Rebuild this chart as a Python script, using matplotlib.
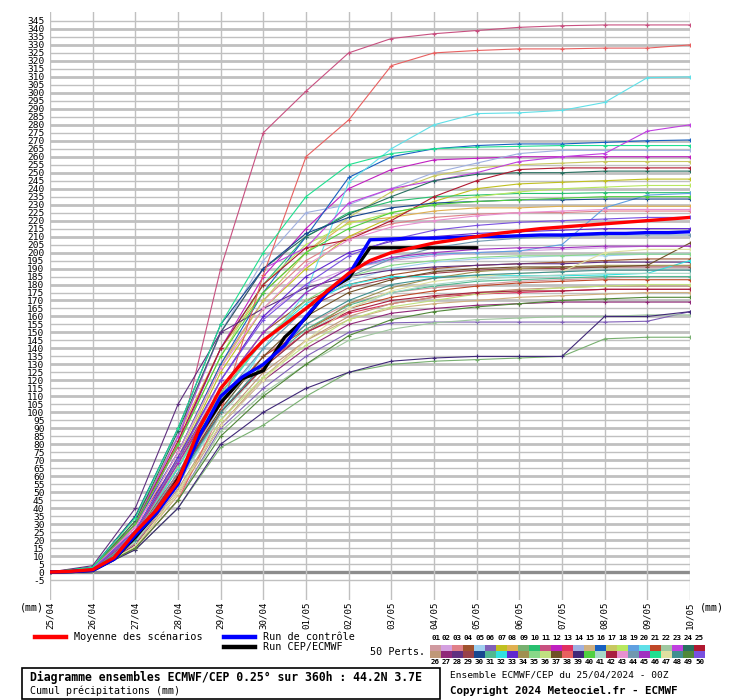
import matplotlib
matplotlib.use("Agg")
import matplotlib.pyplot as plt
from matplotlib.lines import Line2D
from matplotlib.patches import Rectangle

W, H = 740, 700
plt.rcParams['font.family'] = ['DejaVu Sans Mono']

# ---------------- data ----------------
day_labels = ["25/04", "26/04", "27/04", "28/04", "29/04", "30/04", "01/05", "02/05",
              "03/05", "04/05", "05/05", "06/05", "07/05", "08/05", "09/05", "10/05"]
member_hours = [0, 24, 48, 72, 96, 120, 144, 168, 192, 216, 240, 264, 288, 312, 336, 360]

member_colors = ["#d09aa0", "#d4a0e0", "#e08088", "#a0522d", "#a0d0f0", "#8060b8", "#c0c020",
                 "#e0b050", "#78b070", "#28c070", "#c85080", "#c020c0", "#e03060", "#a0b0e0",
                 "#d0b080", "#1860c0", "#c8c860", "#b8e860", "#60a0e0", "#60e0e8", "#c04828",
                 "#a0c8a0", "#c040e0", "#287060", "#b01830",
                 "#c09878", "#902878", "#603080", "#984048", "#184890", "#50b890", "#30e0e0",
                 "#6028d0", "#a09050", "#88d888", "#c0e080", "#705028", "#e86060", "#402878",
                 "#50d040", "#a8d8c8", "#a82040", "#e890d0", "#7098b0", "#a030c0", "#20e090",
                 "#e0e0a0", "#409090", "#508838", "#7850e0"]

m01 = [0, 2, 22, 60, 105, 135, 155, 168, 175, 178, 180, 182, 183, 184, 185, 185]
m02 = [0, 1.5, 25, 65, 120, 160, 180, 190, 195, 198, 200, 201, 202, 203, 204, 204]
m03 = [0, 2, 28, 75, 130, 170, 195, 210, 218, 222, 224, 225, 225, 226, 226, 226]
m04 = [0, 2.5, 30, 70, 115, 150, 170, 180, 186, 190, 192, 193, 194, 195, 196, 196]
m05 = [0, 1, 18, 55, 105, 140, 165, 182, 190, 194, 196, 197, 198, 198, 199, 199]
m06 = [0, 1, 15, 45, 90, 115, 135, 150, 156, 156.5, 156.5, 156.5, 156.5, 156.5, 157, 163]
m07 = [0, 2, 25, 70, 125, 165, 190, 210, 222, 232, 240, 243, 244, 245, 246, 246]
m08 = [0, 3, 32, 85, 140, 175, 200, 219, 222, 226, 228, 228, 229, 229, 229, 229]
m09 = [0, 1, 14, 40, 78, 92, 110, 125, 130, 132, 133, 134, 135, 146, 147, 147]
m10 = [0, 2, 30, 80, 140, 180, 210, 225, 232, 235, 236, 237, 237, 237.5, 237.5, 237.5]
m11 = [0, 2, 35, 78, 190, 275, 301, 325, 334, 337, 339, 341, 342, 342.5, 342.5, 342.5]
m12 = [0, 2, 28, 80, 140, 185, 215, 240, 252, 258, 259, 260, 260, 260, 260, 260]
m13 = [0, 1.5, 20, 55, 100, 130, 150, 162, 168, 172, 174, 175, 176, 177, 177, 177]
m14 = [0, 2, 30, 85, 150, 195, 225, 230, 240, 250, 256, 262, 264, 264, 264, 264]
m15 = [0, 1, 16, 48, 92, 122, 145, 158, 165, 168, 170, 172, 173, 174, 175, 175]
m16 = [0, 3, 30, 75, 130, 175, 210, 247, 260, 265, 267, 268, 268, 269, 270, 270.5]
m17 = [0, 2, 25, 72, 128, 170, 200, 222, 238, 248, 253, 255, 256, 257, 257, 257]
m18 = [0, 2.5, 30, 80, 135, 180, 205, 218, 225, 230, 235, 238, 240, 241, 242, 242]
m19 = [0, 1.5, 22, 65, 115, 150, 175, 190, 196, 199, 200, 201, 205, 228, 236, 237]
m20 = [0, 2, 25, 55, 100, 140, 175, 244, 265, 280, 287, 287.5, 289, 294, 309.5, 310]
m21 = [0, 2, 24, 62, 105, 135, 152, 165, 172, 176, 179, 181, 182, 183, 183, 183]
m22 = [0, 1, 15, 45, 88, 112, 130, 145, 152, 156, 158, 159, 160, 160, 161, 161]
m23 = [0, 2, 30, 85, 150, 190, 203, 231, 240, 245, 250, 257, 260, 262, 276, 280]
m24 = [0, 2, 32, 88, 150, 190, 210, 224, 235, 245, 249, 250, 250, 251, 251, 251]
m25 = [0, 2.5, 30, 82, 140, 180, 203, 208, 220, 235, 245, 252, 253, 253, 253, 253]
m26 = [0, 1.5, 18, 52, 95, 125, 145, 160, 168, 172, 175, 177, 178, 179, 179, 179]
m27 = [0, 1, 17, 50, 92, 120, 140, 155, 162, 165, 167, 168, 169, 169, 169, 169]
m28 = [0, 4, 40, 105, 150, 165, 178, 185, 189, 191, 192, 193, 193, 194, 194, 194]
m29 = [0, 2, 26, 68, 112, 145, 165, 178, 184, 187, 189, 190, 190, 191, 191, 191]
m30 = [0, 3, 35, 90, 155, 190, 212, 222, 228, 231, 232, 233, 233, 233.5, 233.5, 233.5]
m31 = [0, 1.5, 20, 58, 100, 130, 152, 167, 175, 179, 182, 183, 184, 185, 185, 185]
m32 = [0, 2, 24, 65, 110, 145, 168, 180, 185, 185, 185.5, 185.5, 185.5, 186, 187, 195]
m33 = [0, 2, 26, 72, 120, 160, 185, 200, 207, 210, 212, 213, 214, 215, 215, 215]
m34 = [0, 1.5, 20, 60, 100, 128, 150, 168, 178, 184, 188, 190, 191, 192, 192, 192]
m35 = [0, 2, 24, 66, 112, 145, 170, 185, 192, 195, 197, 198, 198, 199, 199, 199]
m36 = [0, 1, 16, 50, 95, 122, 142, 158, 166, 170, 174, 176, 178, 179, 180, 180]
m37 = [0, 2, 22, 60, 102, 135, 160, 175, 183, 188, 190, 191, 191, 191, 192, 206]
m38 = [0, 1, 15, 45, 100, 186, 260, 283, 317, 325, 326.5, 327.5, 327.5, 328, 328, 330]
m39 = [0, 1, 14, 40, 80, 100, 115, 125, 132, 134, 135, 135, 135, 160, 160, 163]
m40 = [0, 2.5, 30, 80, 135, 175, 200, 215, 225, 230, 232, 233, 234, 235, 235, 235]
m41 = [0, 1.5, 19, 55, 98, 128, 150, 165, 175, 180, 183, 185, 186, 187, 187, 187]
m42 = [0, 2, 22, 60, 100, 128, 150, 163, 170, 173, 175, 176, 176, 177, 177, 177]
m43 = [0, 2, 28, 75, 128, 165, 192, 208, 216, 220, 223, 225, 226, 227, 227, 227]
m44 = [0, 1.5, 22, 62, 108, 140, 165, 185, 196, 203, 207, 209, 210, 211, 211, 211]
m45 = [0, 2, 24, 68, 115, 150, 175, 190, 197, 200, 202, 203, 203, 204, 204, 204]
m46 = [0, 3, 34, 90, 155, 200, 235, 255, 262, 265, 266, 266.5, 267, 267, 267, 267]
m47 = [0, 1, 16, 50, 92, 120, 145, 165, 176, 182, 185, 187, 188, 200, 202, 202]
m48 = [0, 1.5, 20, 58, 100, 130, 155, 170, 180, 184, 186, 187, 188, 189, 189, 189]
m49 = [0, 1, 15, 45, 85, 110, 130, 148, 158, 163, 166, 168, 170, 171, 172, 172]
m50 = [0, 2, 26, 70, 120, 158, 180, 198, 208, 214, 217, 219, 220, 221, 222, 222]

members = [m01, m02, m03, m04, m05, m06, m07, m08, m09, m10,
           m11, m12, m13, m14, m15, m16, m17, m18, m19, m20,
           m21, m22, m23, m24, m25, m26, m27, m28, m29, m30,
           m31, m32, m33, m34, m35, m36, m37, m38, m39, m40,
           m41, m42, m43, m44, m45, m46, m47, m48, m49, m50]

hours_12 = [0, 12, 24, 36, 48, 60, 72, 84, 96, 108, 120, 132, 144, 156, 168, 180, 192,
            204, 216, 228, 240, 252, 264, 276, 288, 300, 312, 324, 336, 348, 360]
mean_vals = [0, 0.5, 1.5, 9, 25, 39, 57, 90, 115, 131, 145, 155, 165, 176, 187, 195, 200,
             203, 206, 208, 210, 212, 213.5, 215, 216, 217, 218, 219, 220, 221, 222]
control_vals = [0, 0.3, 1, 8, 23, 37, 55, 85, 110, 122, 130, 142, 160, 175, 186, 208, 208.5,
                209, 209, 209.5, 210, 210, 210.5, 211, 211, 211.5, 212, 212, 212.5, 212.5, 213]
hours_cep = [0, 12, 24, 36, 48, 60, 72, 84, 96, 108, 120, 132, 144, 156, 168, 180, 192,
             204, 216, 228, 240]
cep_vals = [0, 0.3, 1, 8, 22, 37, 58, 86, 106, 121, 126, 147, 159, 176, 184, 203, 203,
            203, 203, 203, 203]

ytick_vals = list(range(-5, 350, 5))

# ---------------- figure ----------------
fig = plt.figure(figsize=(W / 100, H / 100), dpi=100)
fig.patch.set_facecolor("white")

def fx(x):
    return x / W

def fy(y):
    return 1 - y / H

ax_left, ax_right, ax_top, ax_bot = 50, 690, 12, 600
ax = fig.add_axes([fx(ax_left), fy(ax_bot), (ax_right - ax_left) / W, (ax_bot - ax_top) / H])
ax.set_xlim(0, 360)
ax.set_ylim(-17.5, 350.6)
for s in ax.spines.values():
    s.set_visible(False)

# grid
for v in ytick_vals:
    if v == 0:
        ax.axhline(v, color="#8c8c8c", lw=2.4, zorder=1)
    elif v % 10 == 0:
        ax.axhline(v, color="#c0c0c0", lw=2.0, zorder=1)
    else:
        ax.axhline(v, color="#c0c0c0", lw=1.0, zorder=1)
for h in member_hours:
    ax.axvline(h, color="#c0c0c0", lw=1.0, zorder=1)

# members
for vals, c in zip(members, member_colors):
    ax.plot(member_hours, vals, color=c, lw=0.8, marker="+", ms=3.5, mew=0.8, zorder=3)

ax.plot(hours_cep, cep_vals, color="black", lw=2.4, zorder=5)
ax.plot(hours_12, control_vals, color="#0000ff", lw=2.4, zorder=6)
ax.plot(hours_12, mean_vals, color="#ff0000", lw=2.4, zorder=7)

# ticks
ax.set_yticks(ytick_vals)
ax.set_yticklabels([str(v) for v in ytick_vals], fontsize=6.8)
ax.set_xticks(member_hours)
ax.set_xticklabels(day_labels, rotation=90, fontsize=6.6, va="top", ha="center")
ax.tick_params(axis="both", length=0)
ax.tick_params(axis="y", pad=4)
ax.tick_params(axis="x", pad=1.2)

# (mm) labels
fig.text(fx(20), fy(607), "(mm)", fontsize=7.2, va="center", ha="left")
fig.text(fx(700), fy(607), "(mm)", fontsize=7.2, va="center", ha="left")

# legend lines
def leg_line(x0, x1, y, color):
    fig.add_artist(Line2D([fx(x0), fx(x1)], [fy(y), fy(y)], color=color, lw=3.2,
                          transform=fig.transFigure))

leg_line(35, 66, 637, "#ff0000")
fig.text(fx(74), fy(637), "Moyenne des scénarios", fontsize=7.3, va="center", ha="left")
leg_line(224, 255, 637, "#0000ff")
fig.text(fx(263), fy(637), "Run de contrôle", fontsize=7.3, va="center", ha="left")
leg_line(224, 255, 647, "#000000")
fig.text(fx(263), fy(647), "Run CEP/ECMWF", fontsize=7.3, va="center", ha="left")
fig.text(fx(370), fy(652), "50 Perts.", fontsize=7.3, va="center", ha="left")

# colour swatches
sw_x0, sw_w = 430, 11
for i in range(25):
    x = sw_x0 + i * sw_w
    fig.text(fx(x + sw_w / 2), fy(638.5), "%02d" % (i + 1), fontsize=5.4, ha="center",
             va="center", fontweight="bold")
    fig.text(fx(x + sw_w / 2), fy(662.5), "%02d" % (i + 26), fontsize=5.4, ha="center",
             va="center", fontweight="bold")
    fig.add_artist(Rectangle((fx(x), fy(651)), sw_w / W, 6.5 / H, transform=fig.transFigure,
                             facecolor=member_colors[i], edgecolor="none"))
    fig.add_artist(Rectangle((fx(x), fy(657.5)), sw_w / W, 6.5 / H, transform=fig.transFigure,
                             facecolor=member_colors[i + 25], edgecolor="none"))

# bottom box
fig.add_artist(Rectangle((fx(22), fy(699)), (440 - 22) / W, (699 - 668) / H,
                         transform=fig.transFigure, facecolor="none", edgecolor="black", lw=1.2))
fig.text(fx(30), fy(677), "Diagramme ensembles ECMWF/CEP 0.25° sur 360h : 44.2N 3.7E",
         fontsize=8.3, fontweight="bold", va="center", ha="left")
fig.text(fx(30), fy(691), "Cumul précipitations (mm)", fontsize=7.2, va="center", ha="left")
fig.text(fx(450), fy(675), "Ensemble ECMWF/CEP du 25/04/2024 - 00Z", fontsize=6.8,
         va="center", ha="left")
fig.text(fx(450), fy(691), "Copyright 2024 Meteociel.fr - ECMWF", fontsize=7.8,
         fontweight="bold", va="center", ha="left")

fig.savefig("out.png", dpi=100)
